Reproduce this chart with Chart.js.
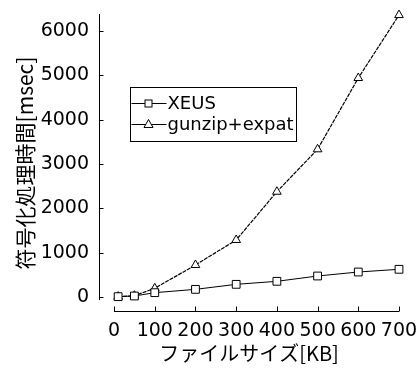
<!DOCTYPE html>
<html>
<head>
<meta charset="utf-8">
<script src="https://cdn.jsdelivr.net/npm/chart.js@4/dist/chart.umd.min.js"></script>
<style>
html,body{margin:0;padding:0;background:#fff;}
#wrap{width:417px;height:369px;position:relative;}
</style>
</head>
<body>
<div id="wrap"><canvas id="c" width="417" height="369"></canvas></div>
<script>
const fileSizes = [10, 50, 100, 200, 300, 400, 500, 600, 700];
const xeusValues = [8, 23, 98, 173, 286, 354, 474, 564, 625];
const gunzipValues = [8, 30, 196, 722, 1286, 2375, 3332, 4940, 6360];
const seriesNames = ['XEUS', 'gunzip+expat'];
const xTickValues = [0, 100, 200, 300, 400, 500, 600, 700];
const yTickValues = [0, 1000, 2000, 3000, 4000, 5000, 6000];
const xTitle = 'ファイルサイズ[KB]';
const yTitle = '符号化処理時間[msec]';

const tickFont = {family: 'DejaVu Sans', size: 19};
const titleFont = {family: 'Noto Sans CJK JP', size: 20};

const frame = {
  id: 'frame',
  afterDatasetsDraw(chart) {
    const ctx = chart.ctx, xs = chart.scales.x, ys = chart.scales.y, a = chart.chartArea;
    ctx.save();
    ctx.strokeStyle = '#000';
    ctx.lineWidth = 1;
    ctx.setLineDash([]);
    // y axis
    const y0 = ys.getPixelForValue(0);
    const xl = Math.round(a.left) + 0.5;
    ctx.beginPath();
    ctx.moveTo(xl, a.top);
    ctx.lineTo(xl, y0 + 3);
    ctx.stroke();
    yTickValues.forEach(v => {
      const py = Math.round(ys.getPixelForValue(v)) + 0.5;
      ctx.beginPath(); ctx.moveTo(xl, py); ctx.lineTo(xl + 4, py); ctx.stroke();
    });
    // x axis
    const yb = Math.round(a.bottom) - 0.5;
    const xa = xs.getPixelForValue(xTickValues[0]);
    const xb = xs.getPixelForValue(xTickValues[xTickValues.length - 1]);
    ctx.beginPath(); ctx.moveTo(xa, yb); ctx.lineTo(xb, yb); ctx.stroke();
    xTickValues.forEach(v => {
      const px = Math.round(xs.getPixelForValue(v)) + 0.5;
      ctx.beginPath(); ctx.moveTo(px, yb); ctx.lineTo(px, yb - 5); ctx.stroke();
    });
    // legend
    const bx = 130.5, by = 87.5, bw = 166, bh = 54;
    ctx.fillStyle = '#fff';
    ctx.fillRect(bx, by, bw, bh);
    ctx.strokeRect(bx, by, bw, bh);
    ctx.font = '18px "DejaVu Sans"';
    ctx.textBaseline = 'middle';
    chart.data.datasets.forEach((ds, i) => {
      const ry = Math.round(by + 15 + i * 21) + 0.5;
      ctx.strokeStyle = '#000';
      ctx.beginPath(); ctx.moveTo(bx + 1, ry); ctx.lineTo(bx + 36, ry); ctx.stroke();
      const cx = bx + 18;
      ctx.fillStyle = '#fff';
      if (ds.pointStyle === 'rect') {
        ctx.fillRect(cx - 3.5, ry - 3.5, 7, 7);
        ctx.strokeRect(cx - 3.5, ry - 3.5, 7, 7);
      } else {
        ctx.beginPath();
        ctx.moveTo(cx, ry - 5); ctx.lineTo(cx + 4.5, ry + 3); ctx.lineTo(cx - 4.5, ry + 3); ctx.closePath();
        ctx.fill(); ctx.stroke();
      }
      ctx.fillStyle = '#000';
      ctx.fillText(ds.label, bx + 37, ry + 1);
    });
    ctx.restore();
  }
};

new Chart(document.getElementById('c'), {
  type: 'line',
  data: {
    datasets: [
      {
        label: seriesNames[0],
        data: fileSizes.map((x, i) => ({x, y: xeusValues[i]})),
        borderColor: '#000', borderWidth: 1, backgroundColor: '#fff',
        pointStyle: 'rect', pointRadius: 5.5, pointBorderColor: '#000', pointBackgroundColor: '#fff', pointBorderWidth: 1,
        tension: 0, clip: false
      },
      {
        label: seriesNames[1],
        data: fileSizes.map((x, i) => ({x, y: gunzipValues[i]})),
        borderColor: '#000', borderWidth: 1.2, borderDash: [4, 1], backgroundColor: '#fff',
        pointStyle: 'triangle', pointRadius: 5, pointBorderColor: '#000', pointBackgroundColor: '#fff', pointBorderWidth: 1,
        tension: 0, clip: false
      }
    ]
  },
  options: {
    responsive: false,
    animation: false,
    events: [],
    layout: {padding: {left: 12, top: 14, right: 18, bottom: 4}},
    plugins: {legend: {display: false}, tooltip: {enabled: false}},
    scales: {
      x: {
        type: 'linear', min: -37, max: 700,
        grid: {display: false, drawTicks: false}, border: {display: false},
        afterBuildTicks: s => { s.ticks = xTickValues.map(v => ({value: v})); },
        afterFit: s => { s.height = 53; s.paddingLeft = 0; s.paddingRight = 0; },
        ticks: {color: '#000', font: tickFont, padding: 8, maxRotation: 0, autoSkip: false, callback: v => String(v)},
        title: {display: true, text: xTitle, color: '#000', font: titleFont, padding: {top: 0, bottom: 0}}
      },
      y: {
        type: 'linear', min: -338, max: 6384,
        grid: {display: false, drawTicks: false}, border: {display: false},
        afterBuildTicks: s => { s.ticks = yTickValues.map(v => ({value: v})); },
        afterFit: s => { s.width = 87; s.paddingTop = 0; s.paddingBottom = 0; },
        ticks: {color: '#000', font: tickFont, padding: 10, callback: v => String(v)},
        title: {display: true, text: yTitle, color: '#000', font: {family: 'Noto Sans CJK JP', size: 21}, padding: {top: 0, bottom: 0}}
      }
    }
  },
  plugins: [frame]
});
</script>
</body>
</html>
